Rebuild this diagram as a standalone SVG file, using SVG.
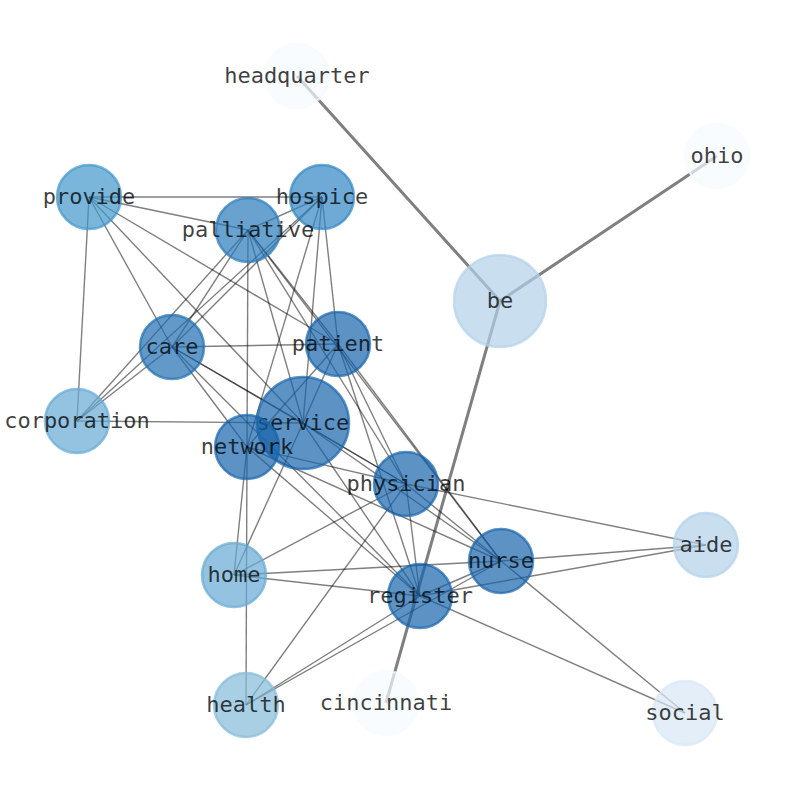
<svg xmlns="http://www.w3.org/2000/svg" width="794" height="790" viewBox="0 0 794 790">
<style>
.e{stroke:#000;stroke-opacity:0.5;stroke-width:1.4;fill:none}
.t{stroke:#000;stroke-opacity:0.5;stroke-width:3;fill:none}
.n circle{fill-opacity:0.7;stroke-opacity:0.7;stroke-width:2.5}
.n text{font-family:"DejaVu Sans Mono",monospace;font-size:22px;fill:#000;fill-opacity:0.75;text-anchor:middle}
</style>
<rect width="794" height="790" fill="#fff"/>
<g id="connectors">
<line class="t" x1="500" y1="301" x2="297" y2="76"/>
<line class="t" x1="500" y1="301" x2="717" y2="156"/>
<line class="t" x1="500" y1="301" x2="386" y2="703"/>
<line class="e" x1="89" y1="197" x2="322" y2="197"/>
<line class="e" x1="89" y1="197" x2="248" y2="230"/>
<line class="e" x1="89" y1="197" x2="77" y2="421"/>
<line class="e" x1="89" y1="197" x2="172" y2="347"/>
<line class="e" x1="89" y1="197" x2="303" y2="423"/>
<line class="e" x1="89" y1="197" x2="338" y2="344"/>
<line class="e" x1="322" y1="197" x2="248" y2="230"/>
<line class="e" x1="322" y1="197" x2="172" y2="347"/>
<line class="e" x1="322" y1="197" x2="77" y2="421"/>
<line class="e" x1="322" y1="197" x2="247" y2="447"/>
<line class="e" x1="322" y1="197" x2="303" y2="423"/>
<line class="e" x1="322" y1="197" x2="338" y2="344"/>
<line class="e" x1="248" y1="230" x2="172" y2="347"/>
<line class="e" x1="248" y1="230" x2="77" y2="421"/>
<line class="e" x1="248" y1="230" x2="247" y2="447"/>
<line class="e" x1="248" y1="230" x2="303" y2="423"/>
<line class="e" x1="248" y1="230" x2="338" y2="344"/>
<line class="e" x1="248" y1="230" x2="406" y2="484"/>
<line class="e" x1="248" y1="230" x2="501" y2="561"/>
<line class="e" x1="172" y1="347" x2="77" y2="421"/>
<line class="e" x1="172" y1="347" x2="338" y2="344"/>
<line class="e" x1="172" y1="347" x2="303" y2="423"/>
<line class="e" x1="172" y1="347" x2="247" y2="447"/>
<line class="e" x1="172" y1="347" x2="406" y2="484"/>
<line class="e" x1="172" y1="347" x2="420" y2="596"/>
<line class="e" x1="77" y1="421" x2="303" y2="423"/>
<line class="e" x1="338" y1="344" x2="303" y2="423"/>
<line class="e" x1="338" y1="344" x2="247" y2="447"/>
<line class="e" x1="338" y1="344" x2="406" y2="484"/>
<line class="e" x1="338" y1="344" x2="501" y2="561"/>
<line class="e" x1="338" y1="344" x2="420" y2="596"/>
<line class="e" x1="303" y1="423" x2="234" y2="575"/>
<line class="e" x1="303" y1="423" x2="406" y2="484"/>
<line class="e" x1="303" y1="423" x2="501" y2="561"/>
<line class="e" x1="303" y1="423" x2="420" y2="596"/>
<line class="e" x1="247" y1="447" x2="406" y2="484"/>
<line class="e" x1="247" y1="447" x2="501" y2="561"/>
<line class="e" x1="247" y1="447" x2="420" y2="596"/>
<line class="e" x1="247" y1="447" x2="234" y2="575"/>
<line class="e" x1="247" y1="447" x2="246" y2="705"/>
<line class="e" x1="234" y1="575" x2="406" y2="484"/>
<line class="e" x1="234" y1="575" x2="501" y2="561"/>
<line class="e" x1="234" y1="575" x2="420" y2="596"/>
<line class="e" x1="246" y1="705" x2="406" y2="484"/>
<line class="e" x1="246" y1="705" x2="501" y2="561"/>
<line class="e" x1="246" y1="705" x2="420" y2="596"/>
<line class="e" x1="406" y1="484" x2="501" y2="561"/>
<line class="e" x1="406" y1="484" x2="420" y2="596"/>
<line class="e" x1="406" y1="484" x2="706" y2="545"/>
<line class="e" x1="501" y1="561" x2="420" y2="596"/>
<line class="e" x1="501" y1="561" x2="706" y2="545"/>
<line class="e" x1="501" y1="561" x2="685" y2="713"/>
<line class="e" x1="420" y1="596" x2="706" y2="545"/>
<line class="e" x1="420" y1="596" x2="685" y2="713"/>
</g>
<g id="node-headquarter" class="n"><circle cx="297" cy="76" r="32" fill="#f7fbff" stroke="#f7fbff"/><text x="297" y="82.5">headquarter</text></g>
<g id="node-ohio" class="n"><circle cx="717" cy="156" r="32" fill="#f7fbff" stroke="#f7fbff"/><text x="717" y="162.5">ohio</text></g>
<g id="node-be" class="n"><circle cx="500" cy="301" r="46" fill="#b2d1e9" stroke="#b2d1e9"/><text x="500" y="307.5">be</text></g>
<g id="node-provide" class="n"><circle cx="89" cy="197" r="32" fill="#4195cb" stroke="#4195cb"/><text x="89" y="203.5">provide</text></g>
<g id="node-hospice" class="n"><circle cx="322" cy="197" r="32" fill="#3086c3" stroke="#3086c3"/><text x="322" y="203.5">hospice</text></g>
<g id="node-palliative" class="n"><circle cx="248" cy="230" r="32" fill="#2a7bbb" stroke="#2a7bbb"/><text x="248" y="236.5">palliative</text></g>
<g id="node-care" class="n"><circle cx="172" cy="347" r="32" fill="#1f6db1" stroke="#1f6db1"/><text x="172" y="353.5">care</text></g>
<g id="node-patient" class="n"><circle cx="338" cy="344" r="32" fill="#1764ab" stroke="#1764ab"/><text x="338" y="350.5">patient</text></g>
<g id="node-corporation" class="n"><circle cx="77" cy="421" r="32" fill="#65aad3" stroke="#65aad3"/><text x="77" y="427.5">corporation</text></g>
<g id="node-service" class="n"><circle cx="303" cy="423" r="46" fill="#1764ab" stroke="#1764ab"/><text x="303" y="429.5">service</text></g>
<g id="node-network" class="n"><circle cx="247" cy="447" r="32" fill="#1764ab" stroke="#1764ab"/><text x="247" y="453.5">network</text></g>
<g id="node-physician" class="n"><circle cx="406" cy="484" r="32" fill="#1764ab" stroke="#1764ab"/><text x="406" y="490.5">physician</text></g>
<g id="node-aide" class="n"><circle cx="706" cy="545" r="32" fill="#b2d1e9" stroke="#b2d1e9"/><text x="706" y="551.5">aide</text></g>
<g id="node-nurse" class="n"><circle cx="501" cy="561" r="32" fill="#1764ab" stroke="#1764ab"/><text x="501" y="567.5">nurse</text></g>
<g id="node-home" class="n"><circle cx="234" cy="575" r="32" fill="#65aad3" stroke="#65aad3"/><text x="234" y="581.5">home</text></g>
<g id="node-register" class="n"><circle cx="420" cy="596" r="32" fill="#1764ab" stroke="#1764ab"/><text x="420" y="602.5">register</text></g>
<g id="node-health" class="n"><circle cx="246" cy="705" r="32" fill="#84bbda" stroke="#84bbda"/><text x="246" y="711.5">health</text></g>
<g id="node-cincinnati" class="n"><circle cx="386" cy="703" r="32" fill="#f7fbff" stroke="#f7fbff"/><text x="386" y="709.5">cincinnati</text></g>
<g id="node-social" class="n"><circle cx="685" cy="713" r="32" fill="#d9e7f5" stroke="#d9e7f5"/><text x="685" y="719.5">social</text></g>
</svg>
